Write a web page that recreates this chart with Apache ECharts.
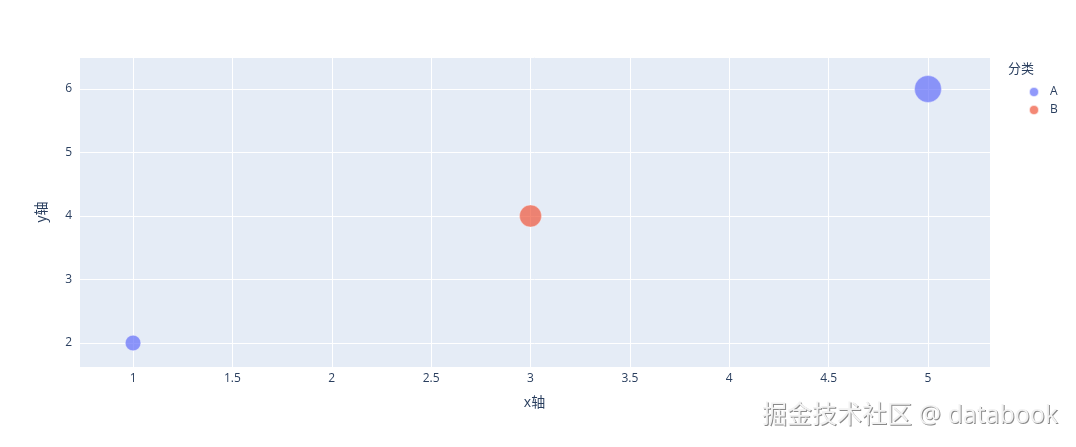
<!DOCTYPE html>
<html>
<head>
<meta charset="utf-8">
<script src="https://cdn.jsdelivr.net/npm/echarts@6/dist/echarts.min.js"></script>
<style>html,body{margin:0;padding:0;background:#fff}#c{width:1076px;height:447px}</style>
</head>
<body>
<div id="c"></div>
<script>
var categories = ['A', 'B'];
var xValues = [1, 3, 5];
var yValues = [2, 4, 6];
var sizeValues = [10, 20, 30];
var pointCategory = ['A', 'B', 'A'];
var legendTitle = '分类';
var xAxisTitle = 'x轴';
var yAxisTitle = 'y轴';
var watermark = '掘金技术社区 @ databook';

var colors = { A: '#636EFA', B: '#EF553B' };
var FONT = '"Open Sans", "Noto Sans CJK SC", sans-serif';
var TXT = '#2a3f5f';

var series = categories.map(function (c) {
  var data = [];
  for (var i = 0; i < xValues.length; i++) {
    if (pointCategory[i] === c) data.push([xValues[i], yValues[i], sizeValues[i]]);
  }
  return {
    name: c,
    type: 'scatter',
    data: data,
    symbol: 'circle',
    symbolSize: function (v) { return 27 * Math.sqrt(v[2] / 30); },
    itemStyle: { color: colors[c], opacity: 0.7, borderColor: '#fff', borderWidth: 0.5 },
    emphasis: { disabled: true }
  };
});

var chart = echarts.init(document.getElementById('c'), null, { renderer: 'canvas' });
chart.setOption({
  animation: false,
  backgroundColor: '#fff',
  textStyle: { fontFamily: FONT },
  grid: { left: 79, right: 86, top: 57, bottom: 80, show: true, backgroundColor: '#E5ECF6', borderWidth: 0 },
  xAxis: {
    type: 'value', min: 0.728, max: 5.312, splitNumber: 9, minInterval: 0.5, maxInterval: 0.5,
    name: xAxisTitle, nameLocation: 'middle', nameGap: 29,
    nameTextStyle: { color: TXT, fontSize: 14, fontFamily: FONT },
    axisLine: { show: false }, axisTick: { show: false },
    axisLabel: { color: TXT, fontSize: 12, margin: 6, showMinLabel: false, showMaxLabel: false, fontFamily: FONT },
    splitLine: { show: true, lineStyle: { color: '#fff', width: 1 } }
  },
  yAxis: {
    type: 'value', min: 1.622, max: 6.504, splitNumber: 5, minInterval: 1, maxInterval: 1,
    name: yAxisTitle, nameLocation: 'middle', nameGap: 30,
    nameTextStyle: { color: TXT, fontSize: 14, fontFamily: FONT },
    axisLine: { show: false }, axisTick: { show: false },
    axisLabel: { color: TXT, fontSize: 12, margin: 7, showMinLabel: false, showMaxLabel: false, fontFamily: FONT },
    splitLine: { show: true, lineStyle: { color: '#fff', width: 1 } }
  },
  legend: {
    orient: 'vertical', left: 1023, top: 81, itemWidth: 10, itemHeight: 10, itemGap: 6,
    icon: 'circle', data: categories,
    textStyle: { color: TXT, fontSize: 12, fontFamily: FONT, padding: [0, 0, 0, 6] },
    selectedMode: false
  },
  graphic: [
    { type: 'text', left: 1008, top: 63, style: { text: legendTitle, fill: TXT, font: '13px ' + FONT } },
    { type: 'text', right: 17, top: 404, silent: true,
      style: { text: watermark, fill: '#8a8a8a', font: '25px ' + FONT } },
    { type: 'text', right: 18, top: 403, silent: true,
      style: { text: watermark, fill: '#f2f2f2', font: '25px ' + FONT } }
  ],
  series: series
});
</script>
</body>
</html>
